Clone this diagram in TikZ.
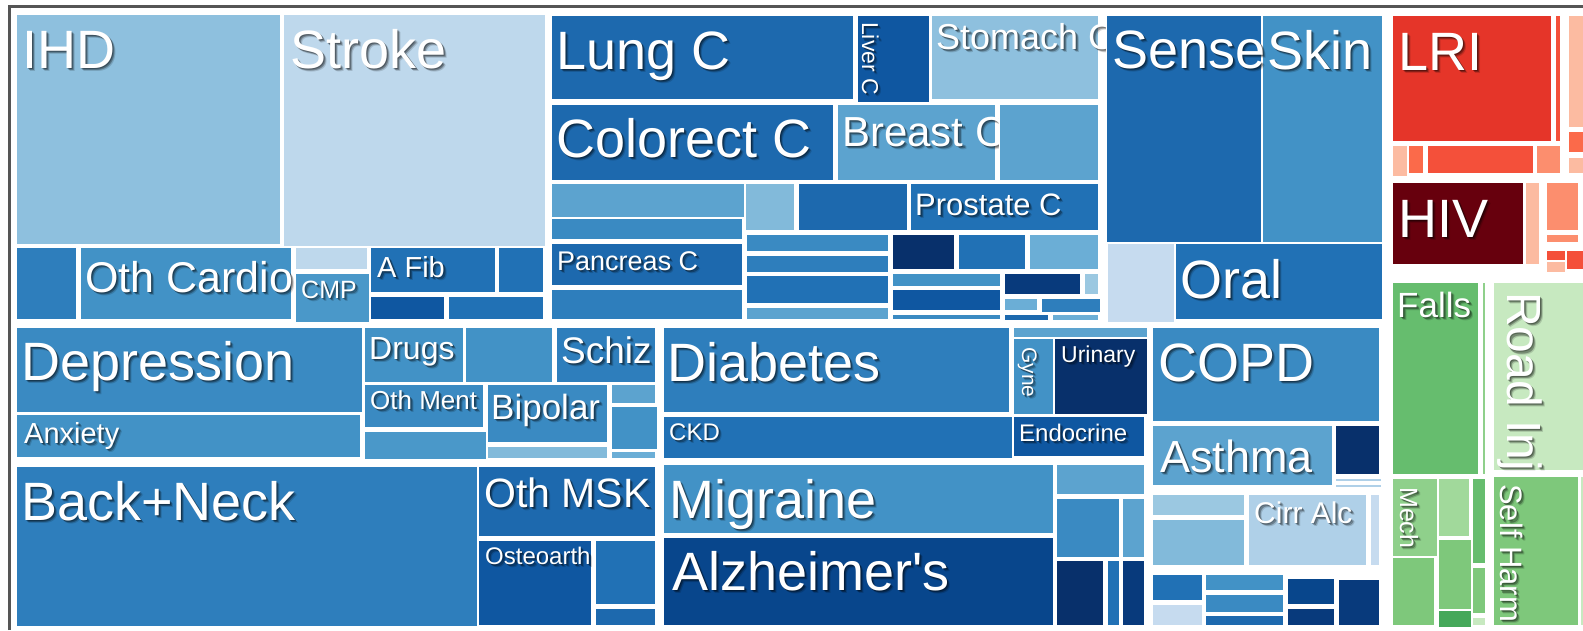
\documentclass[tikz,border=0pt]{standalone}
\usepackage{fontspec}
\setmainfont{Liberation Sans}
\usepackage{tikz}

% blues
\definecolor{bl1}{RGB}{198,219,239}
\definecolor{bl2}{RGB}{190,216,236}
\definecolor{bl3}{RGB}{175,208,232}
\definecolor{bl4}{RGB}{155,200,225}
\definecolor{bl5}{RGB}{142,192,222}
\definecolor{bl6}{RGB}{130,186,218}
\definecolor{bl7}{RGB}{107,174,214}
\definecolor{bl8}{RGB}{92,163,207}
\definecolor{bl9}{RGB}{74,152,201}
\definecolor{bl10}{RGB}{66,146,198}
\definecolor{bl11}{RGB}{58,138,194}
\definecolor{bl12}{RGB}{46,126,188}
\definecolor{bl13}{RGB}{33,113,181}
\definecolor{bl14}{RGB}{29,105,174}
\definecolor{bl15}{RGB}{15,87,161}
\definecolor{bl16}{RGB}{8,70,140}
\definecolor{bl17}{RGB}{8,58,124}
\definecolor{bl18}{RGB}{8,48,107}
% reds
\definecolor{rd1}{RGB}{252,187,161}
\definecolor{rd2}{RGB}{252,142,110}
\definecolor{rd3}{RGB}{251,106,74}
\definecolor{rd4}{RGB}{244,80,58}
\definecolor{rd5}{RGB}{229,53,41}
\definecolor{rd6}{RGB}{103,0,13}
% greens
\definecolor{gr1}{RGB}{199,233,192}
\definecolor{gr2}{RGB}{161,217,155}
\definecolor{gr3}{RGB}{143,208,139}
\definecolor{gr4}{RGB}{126,200,123}
\definecolor{gr5}{RGB}{102,189,110}
\definecolor{gr6}{RGB}{69,168,90}
\definecolor{framegray}{RGB}{85,85,85}

\tikzset{
  tmtext/.style={text=white, inner sep=0pt, anchor=base west},
  tmshade/.style={text=black, text opacity=0.3, inner sep=0pt, anchor=base west},
}
\newcommand{\tmsize}[1]{\fontsize{#1}{#1}\selectfont}
\newcommand{\tmlabel}[5][]{%
  \node[tmshade,font=\tmsize{#4},xshift=3.2pt,yshift=-3.2pt,text opacity=0.15,#1] at (#3) {#5};
  \node[tmshade,font=\tmsize{#4},xshift=2.2pt,yshift=-2.2pt,#1] at (#3) {#5};
  \node[tmshade,font=\tmsize{#4},xshift=1pt,yshift=-1pt,#1] at (#3) {#5};
  \node[tmtext,font=\tmsize{#4},#1] (#2) at (#3) {#5};}

\begin{document}
\begin{tikzpicture}[x=1pt,y=-1pt]
\useasboundingbox (0,0) rectangle (1583,630);
\fill[white] (0,0) rectangle (1583,630);

%tiles: x1/y1/x2/y2/colour
\foreach \xa/\ya/\xb/\yb/\c in {
  17/15/280/244/bl5, 284/15/545/246/bl2,
  17/248/76/319/bl12, 81/248/291/319/bl10, 296/248/367/269/bl2, 296/274/369/322/bl9,
  371/248/495/292/bl13, 499/248/543/292/bl13, 371/297/444/319/bl15, 449/297/543/319/bl13,
  552/16/853/99/bl14, 858/16/929/102/bl15, 932/16/1098/99/bl5,
  552/105/833/180/bl14, 838/105/995/180/bl8, 1000/105/1098/180/bl8,
  552/184/744/217/bl8, 552/219/742/239/bl11, 552/244/742/285/bl14, 552/290/742/319/bl12,
  746/184/794/230/bl6, 799/184/907/230/bl14, 911/184/1098/230/bl13,
  747/235/888/251/bl11, 747/256/888/272/bl12, 747/276/888/303/bl13, 747/308/888/319/bl8,
  893/235/954/269/bl18, 959/235/1025/269/bl13, 1030/235/1098/269/bl7,
  893/274/1000/286/bl10, 893/290/1000/310/bl15, 893/315/1000/319/bl11,
  1005/274/1080/294/bl17, 1085/274/1098/294/bl4, 1005/299/1037/310/bl7,
  1042/299/1100/312/bl12, 1005/315/1048/320/bl14, 1053/315/1098/320/bl7,
  1107/16/1261/242/bl14, 1263/16/1382/242/bl10, 1108/244/1174/322/bl1, 1176/244/1382/319/bl13,
  17/328/362/412/bl11, 17/415/360/457/bl10, 365/328/463/382/bl10, 466/328/552/382/bl10,
  557/328/655/382/bl12, 365/385/483/427/bl11, 365/432/486/459/bl9,
  488/385/607/442/bl11, 488/447/607/458/bl6,
  612/385/655/403/bl8, 612/407/657/449/bl10, 612/452/655/458/bl7,
  17/467/477/626/bl12, 479/467/655/536/bl14, 479/541/591/625/bl15,
  596/541/655/604/bl13, 596/609/655/625/bl14,
  664/328/1009/412/bl12, 664/417/1012/458/bl13, 1014/328/1147/337/bl8,
  1014/339/1053/414/bl10, 1055/339/1147/414/bl18, 1014/417/1144/456/bl15,
  664/465/1053/533/bl10, 664/538/1053/625/bl16,
  1057/465/1144/494/bl8, 1057/499/1119/557/bl11, 1123/499/1144/557/bl8,
  1057/561/1103/625/bl18, 1108/561/1119/625/bl13, 1123/561/1144/625/bl17,
  1153/328/1379/421/bl11, 1153/426/1332/485/bl8, 1336/426/1379/474/bl18,
  1336/479/1381/481/bl3, 1336/485/1381/487/bl3,
  1153/495/1244/515/bl4, 1153/520/1244/565/bl6, 1249/495/1366/565/bl3, 1371/495/1379/565/bl1,
  1153/575/1202/600/bl13, 1153/605/1202/625/bl1,
  1206/575/1283/590/bl10, 1206/595/1283/612/bl11, 1206/616/1283/625/bl14,
  1288/579/1334/604/bl16, 1288/609/1334/625/bl17, 1339/580/1379/625/bl17,
  1393/16/1551/141/rd5, 1556/16/1560/141/rd4,
  1569/16/1583/127/rd1, 1569/132/1583/152/rd3, 1569/158/1583/173/rd1,
  1393/146/1407/176/rd1, 1409/146/1423/173/rd3, 1428/146/1533/173/rd4, 1537/146/1560/173/rd2,
  1393/183/1523/264/rd6, 1526/183/1539/264/rd1,
  1547/183/1578/230/rd2, 1547/235/1578/242/rd2,
  1547/251/1565/260/rd4, 1547/262/1565/272/rd1, 1567/251/1583/269/rd4,
  1393/283/1478/474/gr5, 1483/283/1485/474/gr3, 1494/283/1583/470/gr1,
  1393/479/1437/556/gr3, 1393/558/1434/625/gr4,
  1439/479/1469/536/gr2, 1439/540/1471/609/gr4, 1439/611/1471/627/gr6,
  1473/479/1485/563/gr5, 1473/568/1485/613/gr4, 1473/618/1485/625/gr1,
  1494/477/1578/625/gr4, 1581/477/1583/625/gr1}{
\fill[\c] (\xa,\ya) rectangle (\xb,\yb);
}

%frame
\draw[framegray,line width=3pt] (9.5,630) -- (9.5,6.5) -- (1583,6.5);

%labels
\tmlabel{ihd}{22,68}{54}{IHD}
\tmlabel{stroke}{290,68}{54}{Stroke}
\tmlabel{lung}{556,69}{54}{Lung C}
\tmlabel[rotate=-90]{liver}{862,22}{23}{Liver C}
\begin{scope}
\clip (900,0) rectangle (1105,100);
\tmlabel{stomach}{936,49}{36}{Stomach C}
\end{scope}
\tmlabel{colorect}{556,157}{54}{Colorect C}
\begin{scope}
\clip (830,100) rectangle (998,185);
\tmlabel{breast}{842,146}{42}{Breast C}
\end{scope}
\tmlabel{prostate}{915,215}{31}{Prostate C}
\tmlabel{pancreas}{557,270}{27}{Pancreas C}
\tmlabel{othcardio}{85,292}{43}{Oth Cardio}
\tmlabel{cmp}{301,298}{25}{CMP}
\tmlabel{afib}{377,277}{29}{A Fib}
\tmlabel{sense}{1112,68}{54}{Sense}
\tmlabel{skin}{1267,69}{54}{Skin}
\tmlabel{oral}{1180,298}{54}{Oral}
\tmlabel{lri}{1398,70}{54}{LRI}
\tmlabel{hiv}{1398,237}{54}{HIV}
\tmlabel{depression}{21,380}{54}{Depression}
\tmlabel{anxiety}{24,443}{29}{Anxiety}
\tmlabel{drugs}{369,359}{32}{Drugs}
\tmlabel{schiz}{561,363}{37}{Schiz}
\tmlabel{othment}{370,409}{26}{Oth Ment}
\tmlabel{bipolar}{491,419}{35}{Bipolar}
\tmlabel{backneck}{21,520}{54}{Back+Neck}
\tmlabel{othmsk}{484,507}{41}{Oth MSK}
\tmlabel{osteo}{485,564}{24}{Osteoarth}
\tmlabel{diabetes}{667,381}{54}{Diabetes}
\tmlabel{ckd}{669,440}{24}{CKD}
\tmlabel[rotate=-90]{gyne}{1022,347}{21}{Gyne}
\tmlabel{urinary}{1061,362}{23}{Urinary}
\tmlabel{endocrine}{1019,441}{24}{Endocrine}
\tmlabel{migraine}{669,518}{54}{Migraine}
\tmlabel{alzheimer}{672,590}{54}{Alzheimer\textquotesingle s}
\tmlabel{copd}{1158,381}{54}{COPD}
\tmlabel{asthma}{1160,472}{45}{Asthma}
\tmlabel{cirralc}{1254,523}{30}{Cirr Alc}
\tmlabel{falls}{1397,317}{35}{Falls}
\tmlabel[rotate=-90]{roadinj}{1507,292}{48}{Road Inj}
\tmlabel[rotate=-90]{mech}{1400,487}{25}{Mech}
\tmlabel[rotate=-90]{selfharm}{1500,484}{31}{Self Harm}
\end{tikzpicture}
\end{document}
